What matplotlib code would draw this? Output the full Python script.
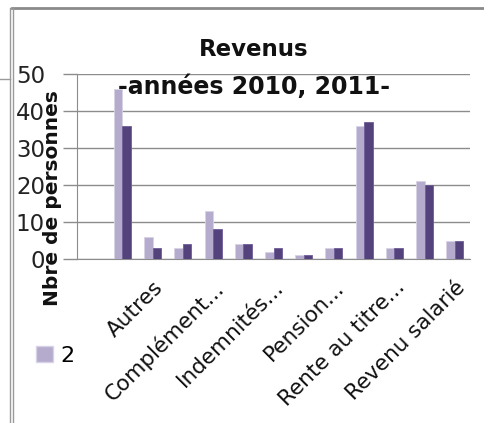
import matplotlib
matplotlib.use("Agg")
import matplotlib.pyplot as plt
from matplotlib.lines import Line2D
from matplotlib.patches import Patch
import numpy as np

plt.rcParams['font.family'] = ['DejaVu Sans']

categories = ["", "", "Autres", "", "Complément...", "", "Indemnités...", "",
              "Pension...", "", "Rente au titre...", "", "Revenu salarié"]
series_a = [0, 46, 6, 3, 13, 4, 2, 1, 3, 36, 3, 21, 5]   # light series
series_b = [0, 36, 3, 4, 8, 4, 3, 1, 3, 37, 3, 20, 5]    # dark series
legend_label = "2"
yticks = [0, 10, 20, 30, 40, 50]

light = "#b5abcc"
dark = "#54427c"
grid = "#8c8c8c"

W, H = 484, 423
fig = plt.figure(figsize=(W / 100, H / 100), dpi=100)
ax = fig.add_axes([77 / W, 1 - 259 / H, (470 - 77) / W, (259 - 74) / H])

x = np.arange(len(categories))
bw = 0.28
ax.bar(x - bw / 2, series_a, width=bw, color=light, edgecolor="#d8d2e6", linewidth=0.6, zorder=3)
ax.bar(x + bw / 2, series_b, width=bw, color=dark, edgecolor="#6e5c96", linewidth=0.6, zorder=3)

ax.set_xlim(-0.5, len(categories) - 0.5)
ax.set_ylim(0, 50)
ax.set_yticks(yticks)
ax.set_yticklabels([str(v) for v in yticks], fontsize=16.5, color="#222222")
ax.tick_params(axis="y", length=10, width=1, color=grid, pad=13)
ax.yaxis.grid(True, color=grid, linewidth=1, zorder=0)
for s in ["top", "right"]:
    ax.spines[s].set_visible(False)
ax.spines["left"].set_color(grid)
ax.spines["bottom"].set_color(grid)

ax.set_xticks(x)
ax.set_xticklabels(categories, rotation=45, ha="right", rotation_mode="anchor",
                   fontsize=15.5, color="#111111")
ax.tick_params(axis="x", length=0, pad=13)

fig.text(254 / W, 1 - 50 / H, "Revenus", ha="center", va="center",
         fontsize=16.5, fontweight="bold", color="#111111")
fig.text(254 / W, 1 - 87 / H, "-années 2010, 2011-", ha="center", va="center",
         fontsize=17, fontweight="bold", color="#111111")
fig.text(53 / W, 1 - 198 / H, "Nbre de personnes", rotation=90, ha="center", va="center",
         fontsize=14.5, fontweight="bold", color="#111111")

fig.legend(handles=[Patch(facecolor=light, edgecolor="#d8d2e6")], labels=[legend_label],
           loc="center left", bbox_to_anchor=(16 / W, 1 - 356 / H), frameon=False,
           fontsize=16, handlelength=0.75, handleheight=0.7, handletextpad=0.35)

# surrounding frame lines
fig.add_artist(Line2D([12 / W, 1], [1 - 8 / H, 1 - 8 / H], color="#8a8a8a", linewidth=2))
fig.add_artist(Line2D([10 / W, 10 / W], [0, 1 - 8 / H], color="#9a9a9a", linewidth=1))
fig.add_artist(Line2D([13 / W, 13 / W], [0, 1 - 8 / H], color="#9a9a9a", linewidth=1))
fig.add_artist(Line2D([0, 10 / W], [1 - 79 / H, 1 - 79 / H], color="#9a9a9a", linewidth=1))

fig.savefig("out.png", dpi=100)
